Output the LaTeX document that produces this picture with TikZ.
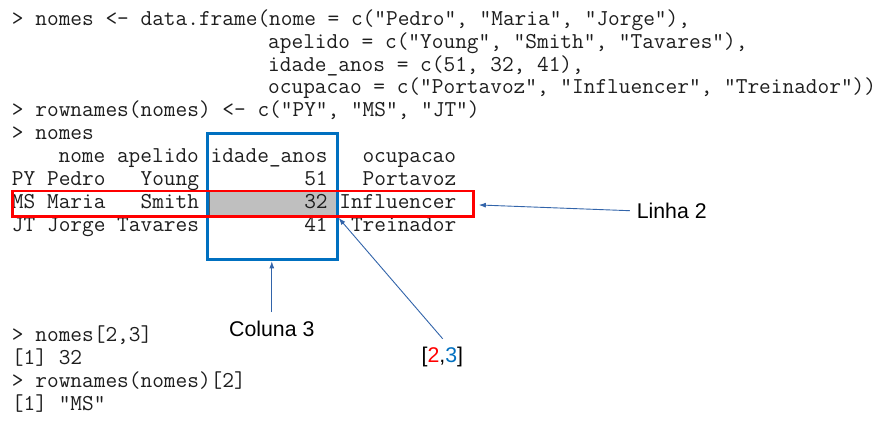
\documentclass[tikz,border=0pt]{standalone}
\usepackage{fontspec}
\usetikzlibrary{arrows.meta}
\newfontfamily\labelfont{Liberation Sans}
\definecolor{codetxt}{RGB}{30,30,30}
\definecolor{boxblue}{RGB}{0,112,192}
\definecolor{boxred}{RGB}{255,0,0}
\definecolor{arrblue}{RGB}{50,100,170}
\definecolor{cellgray}{RGB}{191,191,191}
\begin{document}
\begin{tikzpicture}[x=1pt,y=-1pt,
  codeline/.style={anchor=mid west,inner sep=0pt,outer sep=0pt,text=codetxt,
    font=\ttfamily\fontsize{22.7}{25}\selectfont\frenchspacing},
  lbl/.style={inner sep=0pt,outer sep=0pt,text=black,
    font=\labelfont\fontsize{21.3}{25}\selectfont},
  arr/.style={draw=arrblue,line width=0.9pt,-{Latex[length=7pt,width=5pt]}},
  bluebox/.style={draw=boxblue,line width=2.7pt,inner sep=0pt,outer sep=0pt},
  redbox/.style={draw=boxred,line width=2.7pt,inner sep=0pt,outer sep=0pt},
  grayfill/.style={fill=cellgray,draw=gray!70!black,line width=0.6pt,inner sep=0pt,outer sep=0pt}]
\useasboundingbox[fill=white] (0,0) rectangle (893,426);

% highlighted cell
\node[grayfill,minimum width=127.5pt,minimum height=24.5pt] (cell) at (272.75,203.75) {};

% code lines
\node[codeline] (l0) at (12,23) {> nomes <- data.frame(nome = c("Pedro", "Maria", "Jorge"),};
\node[codeline] (l1) at (268.2,45.93) {apelido = c("Young", "Smith", "Tavares"),};
\node[codeline] (l2) at (268.2,68.86) {idade\_anos = c(51, 32, 41),};
\node[codeline] (l3) at (268.2,91.79) {ocupacao = c("Portavoz", "Influencer", "Treinador"))};
\node[codeline] (l4) at (12,114.72) {> rownames(nomes) <- c("PY", "MS", "JT")};
\node[codeline] (l5) at (12,137.65) {> nomes};
\node[codeline] (l6) at (58.6,160.58) {nome apelido idade\_anos~~~ocupacao};
\node[codeline] (l7) at (12,183.51) {PY Pedro~~~Young~~~~~~~~~51~~~Portavoz};
\node[codeline] (l8) at (12,206.44) {MS Maria~~~Smith~~~~~~~~~32 Influencer};
\node[codeline] (l9) at (12,229.37) {JT Jorge Tavares~~~~~~~~~41~~Treinador};

\node[codeline] (b0) at (12,339.5) {> nomes[2,3]};
\node[codeline] (b1) at (12,362.5) {[1] 32};
\node[codeline] (b2) at (12,385.5) {> rownames(nomes)[2]};
\node[codeline] (b3) at (12,408.5) {[1] "MS"};

% boxes
\node[bluebox,minimum width=130pt,minimum height=126pt] (colbox) at (272.7,196.3) {};
\node[redbox,minimum width=460.6pt,minimum height=25.5pt] (rowbox) at (243,203.75) {};

% labels
\node[lbl] (linha) at (671.7,210.7) {Linha 2};
\node[lbl] (coluna) at (271.8,329) {Coluna 3};
\node[lbl] (idx) at (442.3,356.7) {[\textcolor{boxred}{2},\textcolor{boxblue}{3}]};

% arrows
\draw[arr] ([xshift=-7pt]linha.west) -- ([xshift=5.5pt,yshift=-1.2pt]rowbox.east);
\draw[arr] ([yshift=9pt]coluna.north) -- ([yshift=-2pt]coluna.north |- colbox.south);
\draw[arr] ([xshift=0.4pt,yshift=8pt]idx.north) -- ([xshift=1pt,yshift=-1.5pt]colbox.east |- rowbox.south);
\end{tikzpicture}
\end{document}
